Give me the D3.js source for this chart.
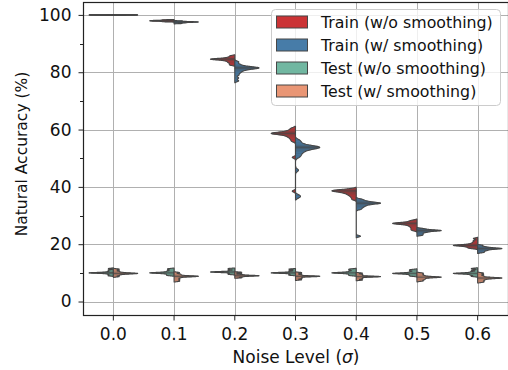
<!DOCTYPE html>
<html><head><meta charset="utf-8">
<script src="https://cdn.jsdelivr.net/npm/d3@7"></script>
<style>body{margin:0;background:#fff}svg{display:block}text{font-family:"DejaVu Sans",sans-serif}</style>
</head><body><svg id="c" width="508" height="370"></svg>
<script>
const categories = ["0.0","0.1","0.2","0.3","0.4","0.5","0.6"];
const yTicks = [0,20,40,60,80,100];
const yMinorTicks = [10,30,50,70,90];
const seriesNames = ["Train (w/o smoothing)","Train (w/ smoothing)","Test (w/o smoothing)","Test (w/ smoothing)"];
const seriesColors = ["#cb3335","#477ca8","#71b7a1","#e99675"];
// observed accuracies (%) per noise level
const trainWo = [
 [100,100,100,100,99.98,100,100,100,100,100,99.96,100],
 [98.3,98.2,98.1,98.05,98.0,97.95,97.9,97.85,97.8,97.7,97.6],
 [85.7,85.3,85.0,84.8,84.7,84.6,84.55,84.5,84.4,84.3,84.1,83.9,83.6,83.3,82.9,82.5],
 [60.5,60.0,59.6,59.3,59.1,58.9,58.8,58.7,58.65,58.6,58.5,58.4,58.2,58.0,57.7,57.4,57.0,56.5,55.9,50.3,38.5],
 [39.3,39.0,38.9,38.8,38.7,38.6,38.5,38.4,38.3,38.1,37.9,37.7,37.4,37.1,36.7,36.2,35.6],
 [28.3,28.0,27.7,27.5,27.4,27.3,27.25,27.2,27.1,27.0,26.8,26.6,26.3,26.0,25.6,25.2,24.8],
 [22.0,21.3,20.8,20.4,20.1,19.9,19.75,19.65,19.6,19.55,19.5,19.4,19.25,19.1,18.9,18.7,18.5]
];
const trainW = [
 [100,99.98,100,100,100,99.97,100,100,100,99.99,100,100],
 [97.9,97.75,97.65,97.6,97.55,97.5,97.45,97.4,97.3,97.2,97.0],
 [83.6,82.8,82.3,82.0,81.8,81.65,81.55,81.5,81.4,81.3,81.1,80.9,80.6,80.2,79.7,79.0,78.0,77.0],
 [56.3,55.6,55.0,54.6,54.3,54.1,53.95,53.85,53.8,53.7,53.6,53.4,53.2,52.9,52.6,52.2,51.7,51.1,50.4,45.8,37.0,36.4],
 [35.7,35.3,35.0,34.8,34.6,34.45,34.35,34.3,34.2,34.1,33.9,33.7,33.4,33.1,32.7,32.2,22.8],
 [25.5,25.25,25.1,24.95,24.85,24.8,24.75,24.7,24.6,24.5,24.35,24.2,24.0,23.7,23.4,23.1],
 [19.6,19.2,18.95,18.8,18.65,18.55,18.5,18.45,18.35,18.25,18.1,17.9,17.7,17.4,17.1]
];
const testWo = [
 [10.0,10.0,10.1,9.9,10.2,9.8,10.4,9.6,10.7,9.3,11.0,9.0,11.5,10.0],
 [10.0,10.0,10.1,9.9,10.3,9.7,10.6,9.4,11.0,9.1,11.4],
 [10.3,10.3,10.4,10.2,10.5,10.1,10.8,9.8,11.2,9.5,11.5],
 [10.0,10.0,10.1,9.9,10.2,9.8,10.5,9.5,10.9,9.2,11.3],
 [10.0,10.0,10.1,9.9,10.3,9.7,10.6,9.4,11.0,9.1,11.3],
 [9.8,9.8,9.9,9.7,10.1,9.5,10.4,9.2,10.8,8.9,11.1],
 [9.8,9.8,9.9,9.7,10.1,9.5,10.4,9.2,10.9,8.8,11.5]
];
const testW = [
 [9.8,9.8,9.9,9.7,10.0,9.6,10.2,9.4,10.5,9.1,10.9,8.7,11.3],
 [8.8,8.8,8.9,8.7,9.0,8.6,9.3,8.3,9.6,7.9,10.1,7.5,7.1],
 [9.0,9.0,9.1,8.9,9.2,8.8,9.4,8.6,9.8,8.3,10.2],
 [8.8,8.8,8.9,8.7,9.0,8.6,9.3,8.3,9.7,8.0,10.1,7.6],
 [8.7,8.7,8.8,8.6,8.9,8.5,9.2,8.2,9.5,7.9,9.9,7.5],
 [8.5,8.5,8.6,8.4,8.8,8.2,9.1,7.9,9.5,7.6,9.9,7.2],
 [8.2,8.2,8.3,8.1,8.5,7.9,8.9,7.6,9.4,7.2,9.9,6.8]
];

const svg = d3.select("#c");
const L = 83, R = 508, T = 2, B = 315;
const x = d3.scaleBand().domain(categories).range([L, R]).padding(0);
const y = d3.scaleLinear().domain([-4.7, 104.5]).range([B, T]);
const gray = "#474747";

// grid
const grid = svg.append("g").attr("stroke", "#b0b0b0").attr("stroke-width", 1);
categories.forEach(c => {
  const cx = Math.round(x(c) + x.bandwidth()/2) + 0.5;
  grid.append("line").attr("x1", cx).attr("x2", cx).attr("y1", T).attr("y2", B);
});
yTicks.forEach(t => {
  const yy = Math.round(y(t)) + 0.5;
  grid.append("line").attr("x1", L).attr("x2", R).attr("y1", yy).attr("y2", yy);
});

const halfW = x.bandwidth() * 0.4;

function kde(data) {
  const sorted = data.slice().sort(d3.ascending);
  const iqr = d3.quantile(sorted, 0.75) - d3.quantile(sorted, 0.25);
  const sd = Math.max(iqr / 1.349, 0.05);
  const bw = Math.max(0.3 * sd, 0.05);
  const lo = d3.min(data) - 2 * bw, hi = d3.max(data) + 2 * bw;
  const n = 200;
  const f = v => d3.sum(data, xi => Math.exp(-0.5 * ((v - xi) / bw) ** 2));
  const pts = d3.range(n + 1).map(i => { const v = lo + (hi - lo) * i / n; return [v, f(v)]; });
  const mx = d3.max(pts, p => p[1]);
  return {pts, f, mx};
}

function drawHalf(data, cat, side, color) {
  const cx = x(cat) + x.bandwidth()/2;
  const k = kde(data);
  const sc = halfW / k.mx;
  const line = d3.line().x(p => cx + side * p[1] * sc).y(p => y(p[0]));
  const pts = [[k.pts[0][0], 0], ...k.pts, [k.pts[k.pts.length-1][0], 0]];
  svg.append("path").attr("d", line(pts) + "Z")
    .attr("fill", color).attr("stroke", gray).attr("stroke-width", 1.1)
    .attr("stroke-linejoin", "round");
  const g = svg.append("g").attr("stroke", gray).attr("stroke-width", 0.5).attr("stroke-opacity", 0.7);
  data.forEach(v => {
    g.append("line").attr("x1", cx).attr("x2", cx + side * k.f(v) * sc)
      .attr("y1", y(v)).attr("y2", y(v));
  });
}

categories.forEach((c, i) => {
  drawHalf(trainWo[i], c, -1, seriesColors[0]);
  drawHalf(trainW[i], c, 1, seriesColors[1]);
  drawHalf(testWo[i], c, -1, seriesColors[2]);
  drawHalf(testW[i], c, 1, seriesColors[3]);
});

// spines
svg.append("rect").attr("x", L + 0.5).attr("y", T + 0.5).attr("width", R - L).attr("height", B - T)
  .attr("fill", "none").attr("stroke", "#222").attr("stroke-width", 1.2);

// y axis
const yAx = svg.append("g").attr("transform", `translate(${L + 0.5},0)`)
  .call(d3.axisLeft(y).tickValues(yTicks).tickSize(5).tickPadding(7).tickFormat(d3.format("d")));
yAx.select(".domain").remove();
yAx.selectAll("text").attr("font-size", 17).attr("fill", "#111");
yAx.selectAll("line").attr("stroke", "#222");
svg.append("g").selectAll("line").data(yMinorTicks).join("line")
  .attr("x1", L - 3).attr("x2", L).attr("y1", d => Math.round(y(d)) + 0.5).attr("y2", d => Math.round(y(d)) + 0.5)
  .attr("stroke", "#222");

// x axis
const xAx = svg.append("g").attr("transform", `translate(0,${B + 0.5})`)
  .call(d3.axisBottom(x).tickSize(5).tickPadding(7));
xAx.select(".domain").remove();
xAx.selectAll("text").attr("font-size", 17).attr("fill", "#111");
xAx.selectAll("line").attr("stroke", "#222");

// labels
const xl = svg.append("text").attr("x", 296).attr("y", 363).attr("text-anchor", "middle")
  .attr("font-size", 17).attr("fill", "#111");
xl.append("tspan").text("Noise Level (");
xl.append("tspan").attr("font-style", "italic").text("σ");
xl.append("tspan").text(")");
svg.append("text").attr("transform", "translate(27,154) rotate(-90)").attr("text-anchor", "middle")
  .attr("font-size", 15.5).attr("fill", "#111").text("Natural Accuracy (%)");

// legend
const lg = svg.append("g");
lg.append("rect").attr("x", 271.5).attr("y", 9.5).attr("width", 229).attr("height", 96).attr("rx", 4)
  .attr("fill", "rgba(255,255,255,0.8)").attr("stroke", "#ccc");
seriesNames.forEach((n, i) => {
  const cy = 22 + i * 23;
  lg.append("rect").attr("x", 276.5).attr("y", cy - 6).attr("width", 31).attr("height", 12)
    .attr("fill", seriesColors[i]).attr("stroke", gray).attr("stroke-width", 1);
  lg.append("text").attr("x", 321).attr("y", cy + 5.5).attr("font-size", 15.8).attr("fill", "#111").text(n);
});
</script></body></html>
